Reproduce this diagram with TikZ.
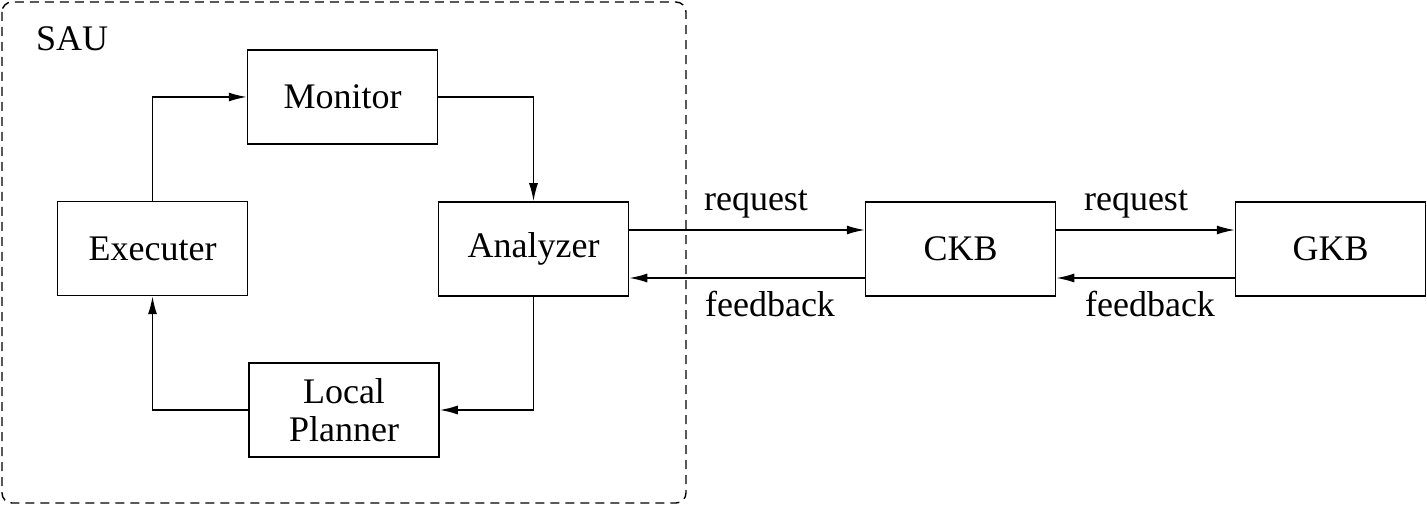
\documentclass[tikz,border=0pt]{standalone}
\usepackage{fontspec}
\setmainfont{Liberation Serif}
\usetikzlibrary{arrows.meta}
\begin{document}
\begin{tikzpicture}[x=0.5pt,y=-0.5pt,
  every node/.style={font=\fontsize{18pt}{19pt}\selectfont},
  box/.style={draw,line width=0.75pt,minimum width=95pt,minimum height=47pt,inner sep=0pt,align=center},
  arr/.style={line width=0.75pt,-{Latex[length=9pt,width=4.5pt]}},
  grp/.style={line width=0.7pt,dash pattern=on 4.5pt off 3pt,rounded corners=5pt}]
\useasboundingbox (0,0) rectangle (1427,507);
\draw[grp] (2,2) rectangle (686,503);
\node[anchor=base west] (sau) at (29,51) {SAU};
\node[box] (mon) at (342.5,97) {Monitor};
\node[box] (exe) at (152.5,248.5) {Executer};
\node[box] (ana) at (533.5,249) {Analyzer};
\node[box] (plan) at (344,410) {Local\\Planner};
\node[box] (ckb) at (960.5,249) {CKB};
\node[box] (gkb) at (1330.5,249) {GKB};
\draw[arr] (exe.north) |- (mon.west);
\draw[arr] (mon.east) -| (ana.north);
\draw[arr] (ana.south) |- (plan.east);
\draw[arr] (plan.west) -| (exe.south);
\draw[arr] ([yshift=9.5pt]ana.east) -- ([yshift=9.5pt]ckb.west);
\draw[arr] ([yshift=-14.5pt]ckb.west) -- ([yshift=-14.5pt]ana.east);
\draw[arr] ([yshift=9.5pt]ckb.east) -- ([yshift=9.5pt]gkb.west);
\draw[arr] ([yshift=-14.5pt]gkb.west) -- ([yshift=-14.5pt]ckb.east);
\node[anchor=base] (req1) at (756,211) {request};
\node[anchor=base] (fb1) at (770,316) {feedback};
\node[anchor=base] (req2) at (1136,211) {request};
\node[anchor=base] (fb2) at (1150,316) {feedback};
\end{tikzpicture}
\end{document}
